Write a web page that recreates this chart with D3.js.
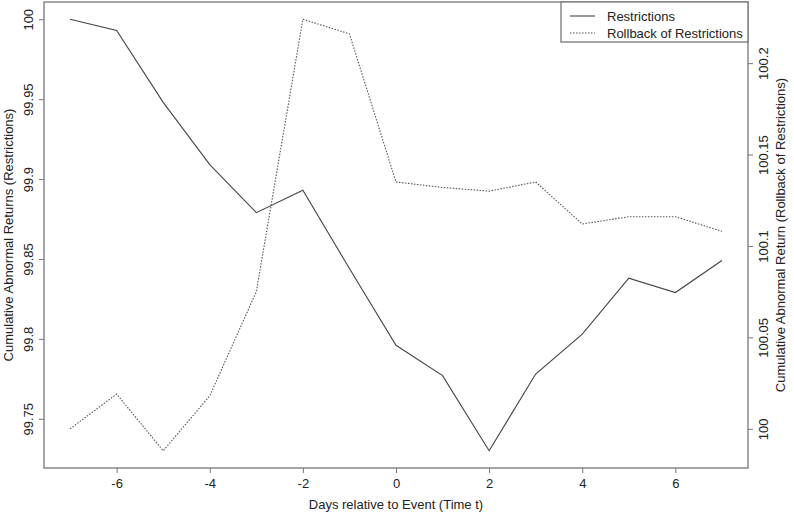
<!DOCTYPE html>
<html>
<head>
<meta charset="utf-8">
<script src="https://cdn.jsdelivr.net/npm/d3@7"></script>
<style>
  body { margin: 0; background: #fff; }
  svg { display: block; font-family: "Liberation Sans", Arial, sans-serif; }
</style>
</head>
<body>
<svg width="794" height="513"></svg>
<script>
// values
var days = [-7, -6, -5, -4, -3, -2, -1, 0, 1, 2, 3, 4, 5, 6, 7];
var restrictions = [100, 99.993, 99.948, 99.909, 99.879, 99.893, 99.844, 99.796, 99.777, 99.730, 99.778, 99.803, 99.838, 99.829, 99.849];
var rollback = [100.000, 100.019, 99.988, 100.018, 100.075, 100.224, 100.216, 100.135, 100.132, 100.130, 100.135, 100.112, 100.116, 100.116, 100.108];
var xTicks = [-6, -4, -2, 0, 2, 4, 6];
var leftTicks = [99.75, 99.8, 99.85, 99.9, 99.95, 100];
var rightTicks = [100, 100.05, 100.1, 100.15, 100.2];
var legendLabels = ['Restrictions', 'Rollback of Restrictions'];

// plot box edges (note: "top" is a reserved window prop, so prefix these)
var pL = 44, pR = 748, pT = 2, pB = 468;
var svg = d3.select('svg');
var ink = '#222', frame = '#777';

// R style: pad range by 4% on each side
function pad(ext) {
	var r = ext[1] - ext[0];
	return [ext[0] - 0.04 * r, ext[1] + 0.04 * r];
}

var x = d3.scaleLinear().domain(pad(d3.extent(days))).range([pL, pR]);
var yL = d3.scaleLinear().domain(pad(d3.extent(restrictions))).range([pB, pT]);
var yR = d3.scaleLinear().domain(pad(d3.extent(rollback))).range([pB, pT]);

var fmt = function(d) { return String(+d.toFixed(2)); };

// x axis
var gx = svg.append('g')
	.attr('transform', 'translate(0,' + pB + ')')
	.call(d3.axisBottom(x).tickValues(xTicks).tickSize(5).tickFormat(fmt));
gx.select('.domain').remove();
gx.selectAll('line').attr('stroke', frame);
gx.selectAll('text')
	.attr('y', 19.5).attr('dy', 0)
	.attr('fill', ink).style('font-size', '13px').style('font-family', 'Liberation Sans, Arial, sans-serif');

// left axis
var gl = svg.append('g')
	.attr('transform', 'translate(' + pL + ',0)')
	.call(d3.axisLeft(yL).tickValues(leftTicks).tickSize(5).tickFormat(fmt));
gl.select('.domain').remove();
gl.selectAll('line').attr('stroke', frame);
gl.selectAll('text')
	.attr('transform', 'rotate(-90)')
	.attr('x', 0).attr('y', -11.5).attr('dy', 0)
	.attr('text-anchor', 'middle')
	.attr('fill', ink).style('font-size', '13px').style('font-family', 'Liberation Sans, Arial, sans-serif');

// right axis
var gr = svg.append('g')
	.attr('transform', 'translate(' + pR + ',0)')
	.call(d3.axisRight(yR).tickValues(rightTicks).tickSize(5).tickFormat(fmt));
gr.select('.domain').remove();
gr.selectAll('line').attr('stroke', frame);
gr.selectAll('text')
	.attr('transform', 'rotate(-90)')
	.attr('x', 0).attr('y', 19.5).attr('dy', 0)
	.attr('text-anchor', 'middle')
	.attr('fill', ink).style('font-size', '13px').style('font-family', 'Liberation Sans, Arial, sans-serif');

// plot box
svg.append('rect')
	.attr('x', pL).attr('y', pT)
	.attr('width', pR - pL).attr('height', pB - pT)
	.attr('fill', 'none').attr('stroke', frame).attr('stroke-width', 1.3);

// lines
var lineL = d3.line().x(function(d, i) { return x(days[i]); }).y(function(d) { return yL(d); });
var lineR = d3.line().x(function(d, i) { return x(days[i]); }).y(function(d) { return yR(d); });

svg.append('path').datum(restrictions)
	.attr('d', lineL).attr('fill', 'none').attr('stroke', '#444').attr('stroke-width', 1.1);
svg.append('path').datum(rollback)
	.attr('d', lineR).attr('fill', 'none').attr('stroke', '#555').attr('stroke-width', 1.1)
	.attr('stroke-dasharray', '1.5,1.5');

// axis titles
var midY = (pT + pB) / 2;
svg.append('text')
	.attr('transform', 'translate(12.5,' + midY + ') rotate(-90)')
	.attr('text-anchor', 'middle').attr('fill', ink).style('font-size', '13px')
	.text('Cumulative Abnormal Returns (Restrictions)');
svg.append('text')
	.attr('transform', 'translate(785,' + midY + ') rotate(-90)')
	.attr('text-anchor', 'middle').attr('fill', ink).style('font-size', '13px')
	.text('Cumulative Abnormal Return (Rollback of Restrictions)');
svg.append('text')
	.attr('x', (pL + pR) / 2).attr('y', 508.5)
	.attr('text-anchor', 'middle').attr('fill', ink).style('font-size', '13px')
	.text('Days relative to Event (Time t)');

// legend
var lg = svg.append('g');
lg.append('rect')
	.attr('x', 561).attr('y', pT).attr('width', pR - 561).attr('height', 40)
	.attr('fill', '#fff').attr('stroke', frame).attr('stroke-width', 1.3);
var rows = lg.selectAll('g.row').data(legendLabels).enter().append('g')
	.attr('transform', function(d, i) { return 'translate(0,' + (16 + i * 17) + ')'; });
rows.append('line')
	.attr('x1', 570).attr('x2', 595)
	.attr('stroke', function(d, i) { return i ? '#555' : '#444'; })
	.attr('stroke-width', 1.1)
	.attr('stroke-dasharray', function(d, i) { return i ? '1.5,1.5' : null; });
rows.append('text')
	.attr('x', 607).attr('dy', '0.35em')
	.attr('fill', ink).style('font-size', '13px')
	.text(function(d) { return d; });
</script>
</body>
</html>
